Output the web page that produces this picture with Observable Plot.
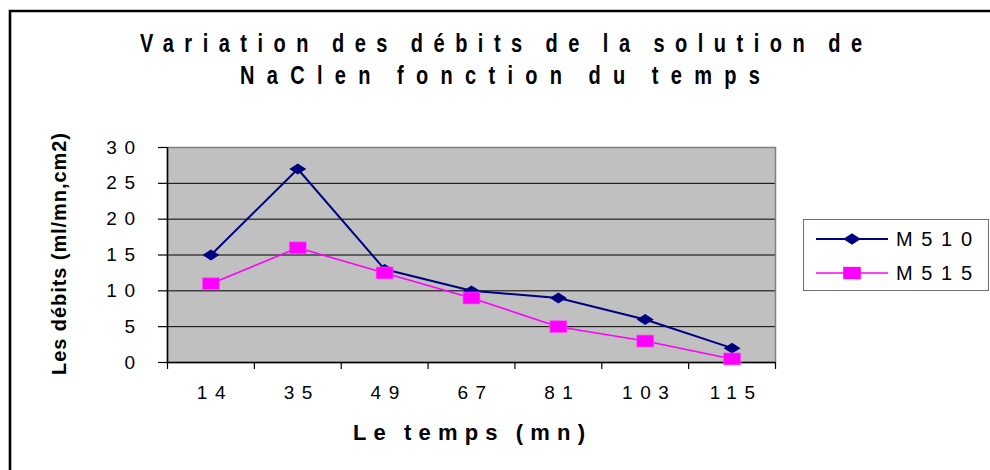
<!DOCTYPE html>
<html><head><meta charset="utf-8">
<script src="https://cdn.jsdelivr.net/npm/d3@7"></script>
<script src="https://cdn.jsdelivr.net/npm/@observablehq/plot@0.6"></script>
<style>
html,body{margin:0;padding:0;background:#fff;}
#wrap{position:relative;width:990px;height:470px;overflow:hidden;font-family:"Liberation Sans",Arial,Helvetica,sans-serif;}
#wrap > svg{position:absolute;left:0;top:0;}
g[aria-label="y-axis tick label"] text{letter-spacing:7.5px;}
g[aria-label="x-axis tick label"] text{letter-spacing:7.5px;}
</style></head><body><div id="wrap"></div>
<script>
// ---- data ----
const categories = ["14", "35", "49", "67", "81", "103", "115"];
const m510 = [15, 27, 13, 10, 9, 6, 2];
const m515 = [11, 16, 12.5, 9, 5, 3, 0.5];
const yTicks = [0, 5, 10, 15, 20, 25, 30];
const seriesNames = ["M510", "M515"];
const titleLines = ["Variation des débits de la solution de", "NaClen fonction du temps"];
const xLabel = "Le temps (mn)";
const yLabel = "Les débits (ml/mn,cm2)";

const navy = "#000080", magenta = "#FF00FF";
const rows510 = categories.map((c, i) => ({i, t: c, v: m510[i]}));
const rows515 = categories.map((c, i) => ({i, t: c, v: m515[i]}));

const wideDiamond = {draw(ctx, size) {const r = Math.sqrt(size / Math.PI), h = r * 0.64;
  ctx.moveTo(-r, 0); ctx.lineTo(0, -h); ctx.lineTo(r, 0); ctx.lineTo(0, h); ctx.closePath();}};
const wideSquare = {draw(ctx, size) {const r = Math.sqrt(size / Math.PI), h = r * 0.7;
  ctx.moveTo(-r, -h); ctx.lineTo(r, -h); ctx.lineTo(r, h); ctx.lineTo(-r, h); ctx.closePath();}};

const bounds = d3.range(-0.5, categories.length, 1);
const chart = Plot.plot({
  width: 990, height: 470,
  marginLeft: 167, marginRight: 215, marginTop: 147, marginBottom: 108,
  style: {fontFamily: '"Liberation Sans", Arial, sans-serif', fontSize: "19px", color: "#000", background: "transparent"},
  x: {type: "linear", domain: [-0.5, categories.length - 0.5]},
  y: {domain: [0, 30]},
  marks: [
    Plot.frame({fill: "#C0C0C0"}),
    Plot.ruleY(yTicks.filter(d => d > 0 && d < 30), {stroke: "#000", strokeWidth: 1}),
    Plot.frame({stroke: "#808080", strokeWidth: 1.5}),
    Plot.ruleY([0], {stroke: "#000", strokeWidth: 1.5}),
    Plot.ruleX([-0.5], {stroke: "#000", strokeWidth: 1.5}),
    Plot.axisY({ticks: yTicks, tickSize: 9, tickPadding: 16, tickFormat: d => String(d), label: null, stroke: "#000", strokeWidth: 1.2}),
    Plot.axisX({ticks: bounds, tickSize: 7, tickFormat: () => "", label: null, stroke: "#000", strokeWidth: 1.2}),
    Plot.axisX({ticks: d3.range(categories.length), tickSize: 0, tickPadding: 23, dx: 4, tickFormat: i => categories[i], label: null}),
    Plot.line(rows510, {x: "i", y: "v", stroke: navy, strokeWidth: 2}),
    Plot.dot(rows510, {x: "i", y: "v", symbol: wideDiamond, r: 8.5, fill: navy, stroke: "none"}),
    Plot.line(rows515, {x: "i", y: "v", stroke: magenta, strokeWidth: 1.6}),
    Plot.dot(rows515, {x: "i", y: "v", symbol: wideSquare, r: 8.5, fill: magenta, stroke: "#ff55ff", strokeWidth: 0.6})
  ]
});
const wrap = document.getElementById("wrap");
wrap.appendChild(chart);

// ---- overlay: frame, titles, axis labels, legend ----
const ov = d3.create("svg").attr("width", 990).attr("height", 470)
  .style("font-family", '"Liberation Sans", Arial, sans-serif');
wrap.appendChild(ov.node());

ov.append("path").attr("d", "M10,470 L10,11 L990,11").attr("fill", "none").attr("stroke", "#000").attr("stroke-width", 2.6);

function fit(sel, target, a) {
  const node = sel.node();
  const str = node.textContent, n = str.length, k = (str.match(/ /g) || []).length;
  let L = 0;
  for (let it = 0; it < 5; it++) {
    sel.style("letter-spacing", L + "px").style("word-spacing", (-a * L) + "px");
    const len = node.getBBox().width - L;
    L += (target - len) / (n - 1 - a * k);
  }
  sel.style("letter-spacing", L + "px").style("word-spacing", (-a * L) + "px");
}

const s = 0.8;
const titlePos = [[140, 52, 722], [240, 84, 520]];
titleLines.forEach((line, j) => {
  const [x, y, w] = titlePos[j];
  const g = ov.append("g").attr("transform", `translate(${x},${y}) scale(${s},1)`);
  const t = g.append("text").attr("font-size", 25).attr("font-weight", "bold").attr("fill", "#000").text(line);
  fit(t, w / s, 0.3);
});

const yl = ov.append("g").attr("transform", "translate(66,375) rotate(-90)")
  .append("text").attr("font-size", 20).attr("font-weight", "bold").text(yLabel);
fit(yl, 242, 0);

const xl = ov.append("text").attr("x", 353).attr("y", 440).attr("font-size", 22).attr("font-weight", "bold").text(xLabel);
fit(xl, 232, 0.3);

// legend
ov.append("rect").attr("x", 803.5).attr("y", 219.5).attr("width", 185).attr("height", 71)
  .attr("fill", "#fff").attr("stroke", "#707070").attr("stroke-width", 1);
const legendItems = [
  {name: seriesNames[0], color: navy, sym: wideDiamond, y: 239, sw: 2},
  {name: seriesNames[1], color: magenta, sym: wideSquare, y: 273, sw: 1.6}
];
legendItems.forEach(it => {
  ov.append("line").attr("x1", 816).attr("x2", 888).attr("y1", it.y).attr("y2", it.y)
    .attr("stroke", it.color).attr("stroke-width", it.sw);
  ov.append("path").attr("transform", `translate(852,${it.y})`)
    .attr("d", d3.symbol(it.sym, 8.8 * 8.8 * Math.PI)()).attr("fill", it.color);
  const t = ov.append("text").attr("x", 896).attr("y", it.y + 7).attr("font-size", 20).attr("fill", "#000").text(it.name);
  fit(t, 76, 0);
});
</script>
</body></html>
